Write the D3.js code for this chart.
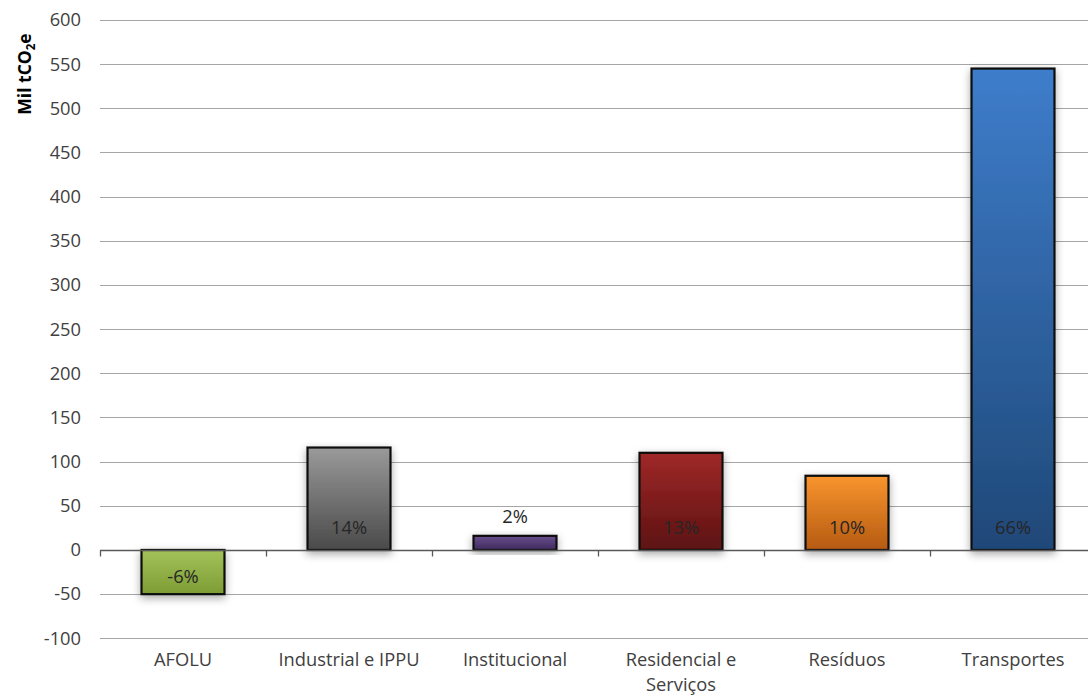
<!DOCTYPE html>
<html>
<head>
<meta charset="utf-8">
<script src="https://cdn.jsdelivr.net/npm/d3@7"></script>
<style>
  html, body { margin: 0; padding: 0; background: #fff; }
  svg { display: block; }
  text { font-family: "Open Sans", "Noto Sans", "Liberation Sans", sans-serif; }
</style>
</head>
<body>
<svg id="chart" width="1088" height="697"></svg>
<script>
// Emissions by sector (thousand tCO2e) and their share of the total
const categories = ["AFOLU", "Industrial e IPPU", "Institucional", "Residencial e Serviços", "Resíduos", "Transportes"];
const values = [-50, 116, 16, 110, 84, 545];
const shares = ["-6%", "14%", "2%", "13%", "10%", "66%"];
const yTicks = [-100, -50, 0, 50, 100, 150, 200, 250, 300, 350, 400, 450, 500, 550, 600];

// Fill gradients per sector: [top, bottom]
const fills = [
  ["#a3c35a", "#7d9c34"],
  ["#9a9a9a", "#4a4a4a"],
  ["#6a4f8e", "#3e2a5c"],
  ["#a02828", "#5c1212"],
  ["#f9952e", "#b55a12"],
  ["#3e7dcb", "#1f4878"]
];

const svg = d3.select("#chart");
const plotLeft = 100, plotRight = 1096, plotTop = 20, plotBottom = 638.3;
const fontSize = 18.3;

const x = d3.scaleBand().domain(categories).range([plotLeft, plotRight]).paddingInner(0.5).paddingOuter(0.25);
const y = d3.scaleLinear().domain([-100, 600]).range([plotBottom, plotTop]);

const defs = svg.append("defs");
fills.forEach((c, i) => {
  const g = defs.append("linearGradient").attr("id", "grad" + i)
    .attr("x1", 0).attr("y1", 0).attr("x2", 0).attr("y2", 1);
  g.append("stop").attr("offset", "0%").attr("stop-color", c[0]);
  g.append("stop").attr("offset", "100%").attr("stop-color", c[1]);
});
const shadow = defs.append("filter").attr("id", "shadow")
  .attr("x", "-30%").attr("y", "-30%").attr("width", "160%").attr("height", "160%");
shadow.append("feDropShadow").attr("dx", 0).attr("dy", 3).attr("stdDeviation", 4)
  .attr("flood-color", "#000").attr("flood-opacity", 0.35);

// Gridlines
svg.append("g").selectAll("line").data(yTicks.filter(d => d !== 0)).join("line")
  .attr("x1", plotLeft).attr("x2", 1088)
  .attr("y1", d => Math.round(y(d)) + 0.5).attr("y2", d => Math.round(y(d)) + 0.5)
  .attr("stroke", "#a6a6a6").attr("stroke-width", 1);

// Y tick labels (plain hyphen for negatives)
const yAxis = d3.axisLeft(y).tickValues(yTicks).tickSize(0).tickPadding(19).tickFormat(d => String(d));
const ya = svg.append("g").attr("transform", `translate(${plotLeft},0)`).call(yAxis);
ya.select(".domain").remove();
ya.selectAll("text").attr("font-size", fontSize).attr("fill", "#404040")
  .attr("font-family", "'Open Sans', 'Noto Sans', sans-serif");

// Bars
const bw = x.bandwidth();
svg.append("g").selectAll("rect").data(values).join("rect")
  .attr("x", (d, i) => x(categories[i]))
  .attr("y", d => y(Math.max(0, d)))
  .attr("width", bw)
  .attr("height", d => Math.abs(y(d) - y(0)))
  .attr("fill", (d, i) => `url(#grad${i})`)
  .attr("stroke", "#0d0d0d").attr("stroke-width", 2.2)
  .attr("filter", "url(#shadow)");

// Zero line with category boundary ticks
const y0 = Math.round(y(0)) + 0.5;
svg.append("line").attr("x1", plotLeft).attr("x2", 1088).attr("y1", y0).attr("y2", y0)
  .attr("stroke", "#595959").attr("stroke-width", 1.3);
const step = x.step();
const bounds = d3.range(0, 6).map(k => plotLeft + k * step);
svg.append("g").selectAll("line").data(bounds).join("line")
  .attr("x1", d => Math.round(d) + 0.5).attr("x2", d => Math.round(d) + 0.5)
  .attr("y1", y0).attr("y2", y0 + 6)
  .attr("stroke", "#595959").attr("stroke-width", 1.3);

// Share labels
svg.append("g").selectAll("text").data(values).join("text")
  .attr("x", (d, i) => x(categories[i]) + bw / 2)
  .attr("y", (d, i) => {
    if (d < 0) return y(0) + 33;
    if (y(0) - y(d) < 40) return y(d) - 13;
    return y(0) - 16;
  })
  .attr("text-anchor", "middle")
  .attr("font-size", fontSize)
  .attr("fill", "#262626")
  .text((d, i) => shares[i]);

// Category labels (wrapped)
const xl = svg.append("g");
categories.forEach(c => {
  const lines = c === "Residencial e Serviços" ? ["Residencial e", "Serviços"] : [c];
  const t = xl.append("text")
    .attr("x", x(c) + bw / 2).attr("y", 666)
    .attr("text-anchor", "middle").attr("font-size", fontSize).attr("fill", "#404040");
  lines.forEach((l, j) => t.append("tspan").attr("x", x(c) + bw / 2).attr("dy", j ? 25 : 0).text(l));
});

// Y axis title
const yt = svg.append("text")
  .attr("transform", "translate(31,74) rotate(-90)")
  .attr("text-anchor", "middle").attr("font-size", 17.5).attr("font-weight", "bold").attr("fill", "#000");
yt.append("tspan").text("Mil tCO");
yt.append("tspan").attr("font-size", 11.5).attr("dy", 4).text("2");
yt.append("tspan").attr("dy", -4).text("e");
</script>
</body>
</html>
